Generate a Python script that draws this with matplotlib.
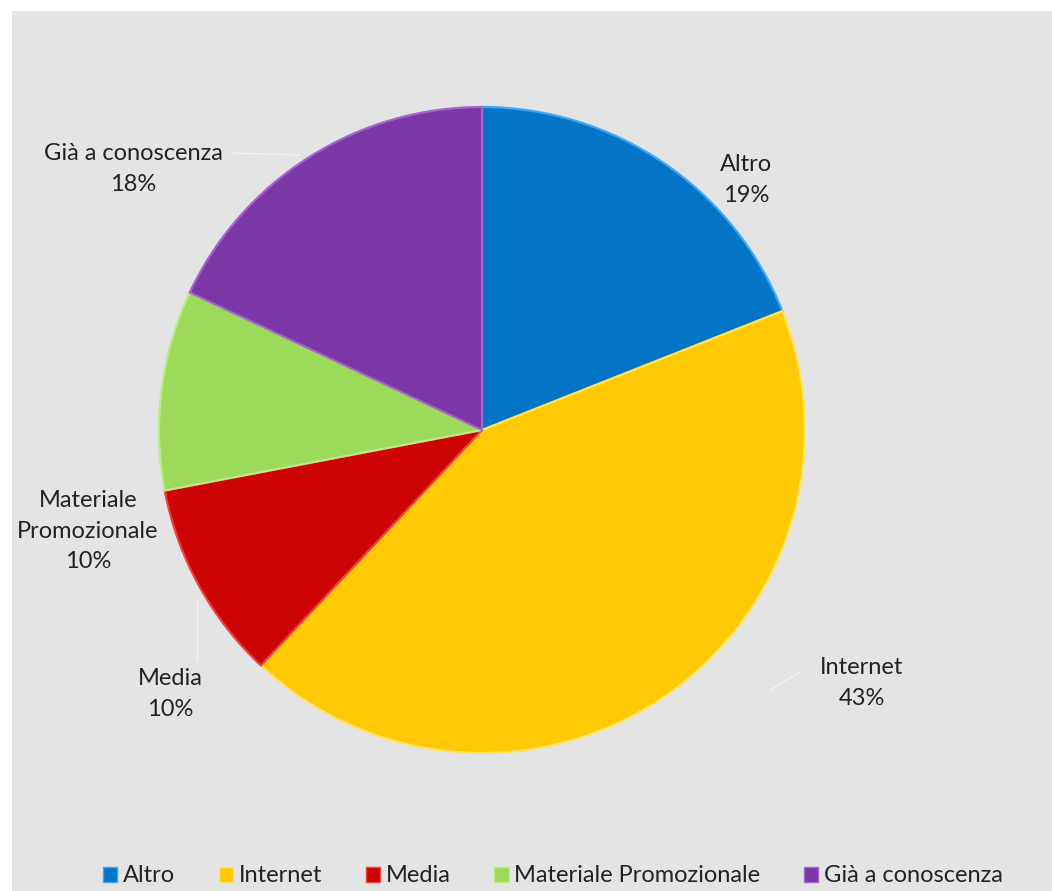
import matplotlib.pyplot as plt
from matplotlib.patches import Rectangle

# share of respondents by source
categories = ['Altro', 'Internet', 'Media', 'Materiale Promozionale', 'Già a conoscenza']
label_text = ['Altro', 'Internet', 'Media', 'Materiale\nPromozionale', 'Già a conoscenza']
values = [19, 43, 10, 10, 18]
colors = ['#0474C6', '#FFC905', '#CC0404', '#9CDA5A', '#7C37A6']
edge_colors = ['#3FA8F0', '#FFE45A', '#F04040', '#BDEB8A', '#A565CC']

W, H = 1052, 891
fig = plt.figure(figsize=(W / 100, H / 100), dpi=100)
fig.patch.set_facecolor('white')
ax = fig.add_axes([0, 0, 1, 1])

# grey chart area with a thin white margin at top and left
ax.add_patch(Rectangle((12, 0), W - 12, H - 11, facecolor='#E4E4E4', edgecolor='none', zorder=0))

plt.rcParams['font.family'] = ['Lato', 'DejaVu Sans']

center = (482, H - 430)
radius = 323
wedges, _ = ax.pie(values, colors=colors, startangle=90, counterclock=False,
                   center=center, radius=radius, frame=True,
                   wedgeprops=dict(linewidth=1.6))
for w, ec in zip(wedges, edge_colors):
    w.set_edgecolor(ec)
    w.set_zorder(2)
ax.set_xlim(0, W)
ax.set_ylim(0, H)
ax.set_aspect('equal')
ax.axis('off')

# data labels (name + percentage) placed outside the pie
label_pos = [(746, 180), (862, 683), (170, 694), (88, 531), (133, 169)]
for txt, v, (lx, ly) in zip(label_text, values, label_pos):
    ax.text(lx, H - ly, f'{txt}\n{v}%', ha='center', va='center', fontsize=17,
            color='#222222', linespacing=1.55, zorder=3)

# faint leader lines
ax.plot([232, 300], [H - 153, H - 155], color='#F2F2F2', lw=1, zorder=1)
ax.plot([197, 197], [H - 600, H - 660], color='#F2F2F2', lw=1, zorder=1)
ax.plot([770, 800], [H - 690, H - 672], color='#F2F2F2', lw=1, zorder=1)

handles = [Rectangle((0, 0), 1, 1, facecolor=c, edgecolor=e) for c, e in zip(colors, edge_colors)]
fig.legend(handles, categories, loc='center', bbox_to_anchor=(553 / W, 1 - 876 / H),
           ncol=5, frameon=False, fontsize=17, handlelength=0.6, handleheight=0.6,
           handletextpad=0.25, columnspacing=1.85, labelcolor='#222222')

fig.savefig('out.png', dpi=100, facecolor=fig.get_facecolor())
